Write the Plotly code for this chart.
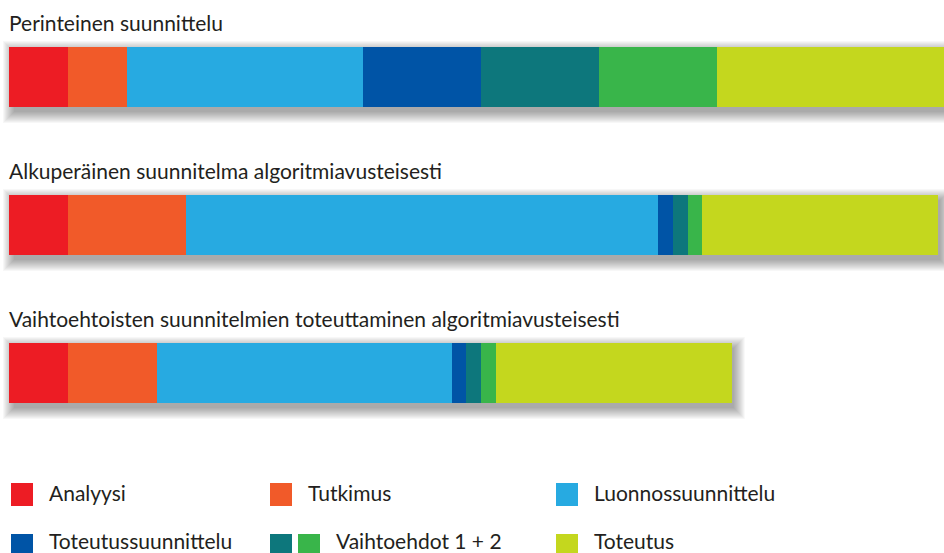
import plotly.graph_objects as go

# Phases of the design process and their colours
phases = ["Analyysi", "Tutkimus", "Luonnossuunnittelu", "Toteutussuunnittelu",
          "Vaihtoehto 1", "Vaihtoehto 2", "Toteutus"]
colors = ["#ED1C24", "#F15A29", "#27AAE1", "#0054A6", "#0D777C", "#39B54A", "#C4D71E"]

# Rows (top to bottom) and the relative duration of each phase per row
rows = ["Perinteinen suunnittelu",
        "Alkuperäinen suunnitelma algoritmiavusteisesti",
        "Vaihtoehtoisten suunnitelmien toteuttaminen algoritmiavusteisesti"]
perinteinen = [1, 1, 4, 2, 2, 2, 4]
alkuperainen = [1, 2, 8, 0.25, 0.25, 0.25, 4]
vaihtoehtoiset = [1, 1.5, 5, 0.25, 0.25, 0.25, 4]
durations = [perinteinen, alkuperainen, vaihtoehtoiset]

# Legend entries: (label, swatch colours)
legend_items = [
    ("Analyysi", ["#ED1C24"]),
    ("Tutkimus", ["#F15A29"]),
    ("Luonnossuunnittelu", ["#27AAE1"]),
    ("Toteutussuunnittelu", ["#0054A6"]),
    ("Vaihtoehdot 1 + 2", ["#0D777C", "#39B54A"]),
    ("Toteutus", ["#C4D71E"]),
]

W, H = 944, 553
FONT = "Lato"
TEXT = "#231F20"
PX_X = 59.0      # pixels per duration unit
PX_Y = 148.0     # pixels between rows
X0_PX = 9.0      # left edge of bars
Y0_PX = 77.0     # centre of first bar
BAR_PX = 60.0
bw = BAR_PX / PX_Y
ypos = list(range(len(rows)))

fig = go.Figure()
for j, (name, col) in enumerate(zip(phases, colors)):
    fig.add_trace(go.Bar(
        y=ypos, x=[d[j] for d in durations], orientation="h", name=name,
        marker=dict(color=col, line=dict(width=0)), width=bw,
        showlegend=False, hoverinfo="x+name"))

# Soft drop shadow under each bar: translucent rectangles, offset down/right
ux, uy = 1 / PX_X, 1 / PX_Y
SH_DX, SH_DY, SH_BLUR = 2.0, 5.0, 12
for i, d in enumerate(durations):
    total = sum(d)
    for k in range(SH_BLUR):
        s = float(k)
        fig.add_shape(type="rect", xref="x", yref="y", layer="below",
                      x0=0 + (SH_DX + 3 - s) * ux, x1=total + (SH_DX + s) * ux,
                      y0=i - bw / 2 + (SH_DY - s) * uy, y1=i + bw / 2 + (SH_DY + s) * uy,
                      line=dict(width=0), fillcolor="rgba(0,0,0,0.033)")

# Row titles above the bars
for i, title in enumerate(rows):
    fig.add_annotation(text=title, xref="paper", x=(X0_PX - 2) / W, xanchor="left",
                       yref="y", y=i - bw / 2, yanchor="bottom", yshift=10,
                       showarrow=False, font=dict(family=FONT, size=21, color=TEXT))

def px(x):
    return x / W

def py(y):
    return 1 - y / H

# Hand-built legend in a 3 x 2 grid
col_x = [11, 270, 556]
sw_y = [494.5, 545.5]
txt_y = [492.5, 540.0]
sw_w, sw_h, sw_gap = 22, 23, 6
for n, (label, cols) in enumerate(legend_items):
    cx = col_x[n % 3]
    cy = sw_y[n // 3]
    x = cx
    for c in cols:
        fig.add_shape(type="rect", xref="paper", yref="paper",
                      x0=px(x), x1=px(x + sw_w), y0=py(cy + sw_h / 2), y1=py(cy - sw_h / 2),
                      line=dict(width=0), fillcolor=c)
        x += sw_w + sw_gap
    fig.add_annotation(text=label, xref="paper", yref="paper",
                       x=px(x - sw_gap + 14), y=py(txt_y[n // 3]), xanchor="left", yanchor="middle",
                       showarrow=False, font=dict(family=FONT, size=21, color=TEXT))

fig.update_layout(
    width=W, height=H, margin=dict(l=0, r=0, t=0, b=0),
    paper_bgcolor="white", plot_bgcolor="white", barmode="stack", bargap=0,
    xaxis=dict(range=[-X0_PX / PX_X, (W - X0_PX) / PX_X], visible=False, fixedrange=True),
    yaxis=dict(range=[(H - Y0_PX) / PX_Y, -Y0_PX / PX_Y], visible=False, fixedrange=True),
)

fig.write_html("out.html")
